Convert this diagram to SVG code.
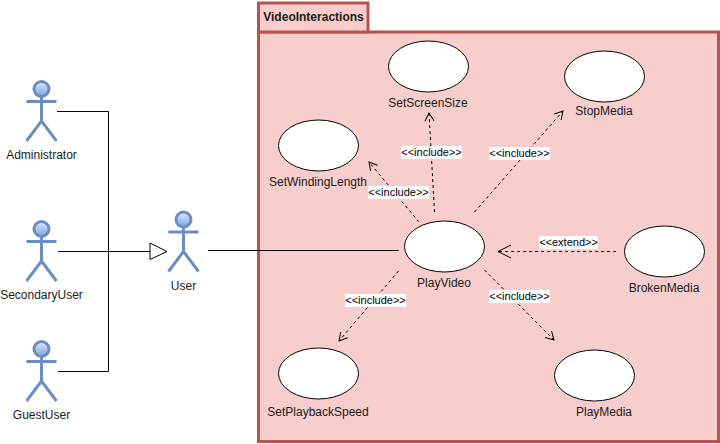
<svg xmlns="http://www.w3.org/2000/svg" width="720" height="444" viewBox="0 0 720 444">
<style>
text{font-family:"Liberation Sans",Arial,sans-serif;font-size:12px;fill:#1a1a1a;text-anchor:middle}
.uc{fill:#fff;stroke:#000;stroke-width:1}
.lb{fill:#fff}
.l{font-size:11px;fill:#000}
.sol{fill:none;stroke:#000;stroke-width:1}
.dash{fill:none;stroke:#000;stroke-width:1;stroke-dasharray:3 3;marker-end:url(#open)}
.fig{fill:none;stroke:#6c8ebf;stroke-width:3}
.head{fill:url(#hg);stroke:#6c8ebf;stroke-width:3}
</style>
<defs>
<linearGradient id="hg" x1="0" y1="0" x2="0" y2="1"><stop offset="0" stop-color="#dae8fc"/><stop offset="1" stop-color="#7ea6e0"/></linearGradient>
<marker id="open" markerUnits="userSpaceOnUse" markerWidth="12" markerHeight="12" refX="10" refY="6" orient="auto"><path d="M2 1.500L10 6L2 10.500" fill="none" stroke="#000"/></marker>
<marker id="open2" markerUnits="userSpaceOnUse" markerWidth="16" markerHeight="16" refX="14" refY="8" orient="auto"><path d="M1 1.500L14 8L1 14.500" fill="none" stroke="#000"/></marker>
<g id="actor"><circle class="head" cx="0" cy="0" r="7.500"/><path class="fig" d="M0 8V32M-15 12.500H15M-15 52L0 32L15 52"/></g>
</defs>
<g id="package-VideoInteractions">
<rect x="258.500" y="32" width="460" height="409.500" fill="#f8cecc" stroke="#b85450" stroke-width="3"/>
<rect x="258.500" y="3" width="109.500" height="29" fill="#f8cecc" stroke="#b85450" stroke-width="3"/>
<text x="313.500" y="21" style="font-weight:bold">VideoInteractions</text>
</g>
<g id="connectors">
<path class="sol" d="M57 111.500H108.500V371.500H58"/>
<path class="sol" d="M58 251.500H150"/>
<path d="M150 243L167 251.500L150 259.500Z" fill="#fff" stroke="#000"/>
<path class="sol" d="M208 250.500H398.500"/>
<path class="dash" d="M434.500 212L429 113"/>
<path class="dash" d="M419 222L369 162"/>
<path class="dash" d="M474.500 212L563 111"/>
<path d="M616 251.500H498" fill="none" stroke="#000" stroke-dasharray="3 3" marker-end="url(#open2)"/>
<path class="dash" d="M398.500 271L339 341"/>
<path class="dash" d="M484.500 270L554 340"/>
</g>
<g id="edge-labels">
<rect class="lb" x="401" y="146" width="61" height="13"/><text class="l" x="431.500" y="156">&lt;&lt;include&gt;&gt;</text>
<rect class="lb" x="368" y="186" width="61" height="13"/><text class="l" x="398.500" y="196">&lt;&lt;include&gt;&gt;</text>
<rect class="lb" x="489" y="147" width="61" height="13"/><text class="l" x="519.500" y="157">&lt;&lt;include&gt;&gt;</text>
<rect class="lb" x="539" y="236" width="59" height="13"/><text class="l" x="568.500" y="246">&lt;&lt;extend&gt;&gt;</text>
<rect class="lb" x="345" y="294" width="61" height="13"/><text class="l" x="375.500" y="304">&lt;&lt;include&gt;&gt;</text>
<rect class="lb" x="489" y="290" width="61" height="13"/><text class="l" x="519.500" y="300">&lt;&lt;include&gt;&gt;</text>
</g>
<g id="SetScreenSize"><ellipse class="uc" cx="428.500" cy="66.500" rx="40" ry="25.500"/><text x="428" y="107">SetScreenSize</text></g>
<g id="SetWindingLength"><ellipse class="uc" cx="318.500" cy="145.500" rx="40" ry="25.500"/><text x="318" y="186">SetWindingLength</text></g>
<g id="StopMedia"><ellipse class="uc" cx="604.500" cy="76.500" rx="40" ry="25.500"/><text x="604" y="115">StopMedia</text></g>
<g id="PlayVideo"><ellipse class="uc" cx="444.500" cy="246.500" rx="40" ry="25.500"/><text x="444" y="287">PlayVideo</text></g>
<g id="BrokenMedia"><ellipse class="uc" cx="664.500" cy="251.500" rx="40" ry="25.500"/><text x="664" y="292">BrokenMedia</text></g>
<g id="PlayMedia"><ellipse class="uc" cx="594.500" cy="375.500" rx="40" ry="25.500"/><text x="604" y="416">PlayMedia</text></g>
<g id="SetPlaybackSpeed"><ellipse class="uc" cx="318.500" cy="373.500" rx="40" ry="25.500"/><text x="318" y="416">SetPlaybackSpeed</text></g>
<g id="Administrator"><use href="#actor" x="41.500" y="89"/><text x="41.500" y="159">Administrator</text></g>
<g id="SecondaryUser"><use href="#actor" x="41.500" y="229"/><text x="41.500" y="299">SecondaryUser</text></g>
<g id="GuestUser"><use href="#actor" x="41.500" y="349"/><text x="41.500" y="419">GuestUser</text></g>
<g id="User"><use href="#actor" x="183.500" y="219.500"/><text x="183.500" y="290">User</text></g>
</svg>
